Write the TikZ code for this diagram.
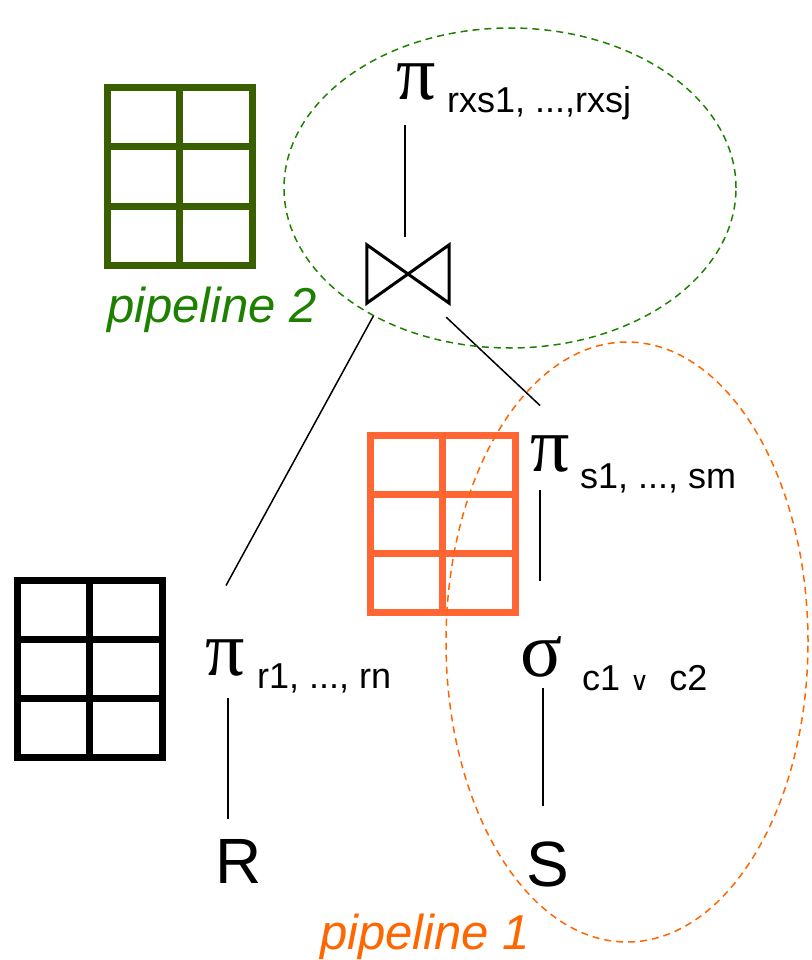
\documentclass[tikz,border=0pt]{standalone}
\usepackage[no-math]{fontspec}
\setmainfont{Liberation Sans}
\newfontfamily\greekfont{Liberation Serif}
\newfontfamily\opsymfont{DejaVu Sans}
\usepackage{amssymb}
\usepackage{amsmath}
\usetikzlibrary{positioning,calc}

\definecolor{tblgreen}{RGB}{58,95,0}
\definecolor{pipegreen}{RGB}{30,128,0}
\definecolor{tblorange}{RGB}{255,102,51}
\definecolor{pipeorange}{RGB}{255,102,0}

% a small 2x3 table
\newcommand{\reltable}[3]{%
  \draw[tbl,#3] (#1,#2) rectangle ++(145,177);
  \draw[tbl,#3] (#1+72.5,#2) -- ++(0,177);
  \draw[tbl,#3] (#1,#2+59) -- ++(145,0);
  \draw[tbl,#3] (#1,#2+118) -- ++(145,0);
}
\newcommand{\orop}{{\opsymfont\fontsize{26}{30}\selectfont ∨}}

\tikzset{
  tbl/.style={line width=7pt},
  op/.style={inner sep=0pt, font=\fontsize{78}{80}\selectfont\greekfont},
  sub/.style={inner sep=0pt, anchor=base west, font=\fontsize{36}{40}\selectfont},
  rel/.style={inner sep=0pt, font=\fontsize{64}{70}\selectfont},
  pipe/.style={inner sep=0pt, anchor=base, font=\fontsize{49}{52}\selectfont\itshape},
  edge/.style={line width=1.5pt},
  pipeline/.style={dashed, dash pattern=on 7pt off 5pt, line width=1.5pt}
}

\begin{document}
\begin{tikzpicture}[x=1pt,y=-1pt]
    \useasboundingbox (0,0) rectangle (811,960);

    % tables
    \reltable{107}{88}{tblgreen}
    \reltable{370}{435}{tblorange}
    \reltable{17}{580}{black}

    % operators
    \node[op] (pi3) at (416,82) {π};
    \node[sub] (pi3sub) at (447,113) {rxs1, ...,rxsj};

    \node[minimum width=82pt, minimum height=58pt, inner sep=0pt] (join) at (408,274) {};
    \draw[line width=3pt] (join.north west) -- (join.south east) -- (join.north east)
      -- (join.south west) -- cycle;

    \node[op] (piS) at (550,454) {π};
    \node[sub] (piSsub) at (580,488) {s1, ..., sm};

    \node[op] (sigS) at (542,657) {σ};
    \node[sub] (sigSsub) at (582,690) {c1 \orop\ \ c2};

    \node[op] (piR) at (225,658) {π};
    \node[sub] (piRsub) at (257,688) {r1, ..., rn};

    \node[rel] (R) at (239,861) {R};
    \node[rel] (S) at (548,864) {S};

    % edges
    \draw[edge] ($(join.north)+(-3,-120)$) -- ($(join.north)+(-3,-8)$);
    \draw[edge] ($(join.south west)+(7,12)$) -- ($(piR.north)+(1,-54)$);
    \draw[edge] ($(join.south east)+(-3,14)$) -- ($(piS.north)+(-10,-30)$);
    \draw[edge] ($(piS.south)+(-10,18)$) -- ($(sigS.north)+(-2,-55)$);
    \draw[edge] ($(sigS.south)+(1,10)$) -- ($(S.north)+(-5,-35)$);
    \draw[edge] ($(piR.south)+(3,22)$) -- ($(R.north)+(-11,-20)$);

    % pipelines
    \draw[pipeline, pipegreen] (510,188) ellipse [x radius=226pt, y radius=160pt];
    \draw[pipeline, pipeorange] (627,642) ellipse [x radius=181pt, y radius=300pt];
    \node[pipe, text=pipegreen] (pipe2) at (212,322) {pipeline 2};
    \node[pipe, text=pipeorange] (pipe1) at (425,949) {pipeline 1};
\end{tikzpicture}
\end{document}
